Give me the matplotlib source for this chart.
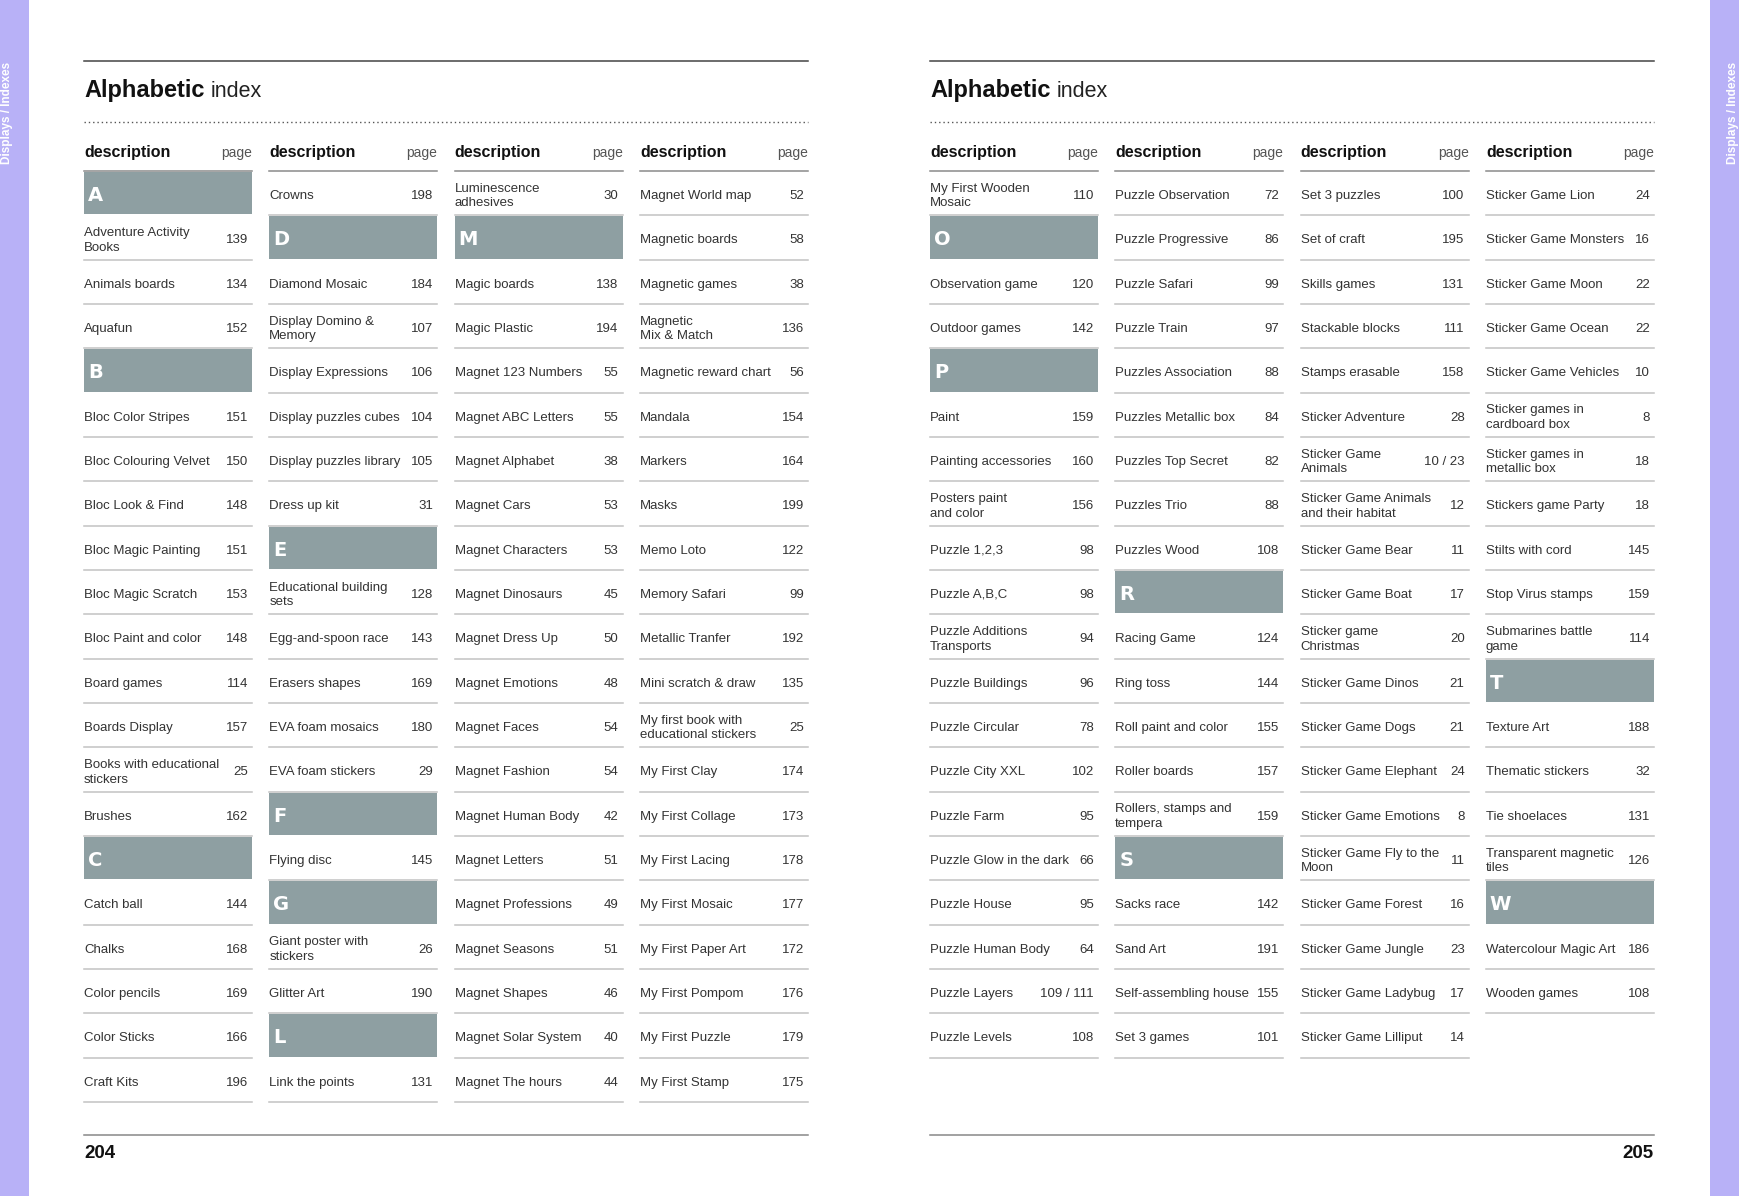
import matplotlib.pyplot as plt
from matplotlib.patches import Rectangle

W, H = 1740, 1196

# index data: (description, page); page None marks a letter band
col1 = [("A", None), ("Adventure Activity\nBooks", "139"), ("Animals boards", "134"),
        ("Aquafun", "152"), ("B", None), ("Bloc Color Stripes", "151"),
        ("Bloc Colouring Velvet", "150"), ("Bloc Look & Find", "148"),
        ("Bloc Magic Painting", "151"), ("Bloc Magic Scratch", "153"),
        ("Bloc Paint and color", "148"), ("Board games", "114"), ("Boards Display", "157"),
        ("Books with educational\nstickers", "25"), ("Brushes", "162"), ("C", None),
        ("Catch ball", "144"), ("Chalks", "168"), ("Color pencils", "169"),
        ("Color Sticks", "166"), ("Craft Kits", "196")]
col2 = [("Crowns", "198"), ("D", None), ("Diamond Mosaic", "184"),
        ("Display Domino &\nMemory", "107"), ("Display Expressions", "106"),
        ("Display puzzles cubes", "104"), ("Display puzzles library", "105"),
        ("Dress up kit", "31"), ("E", None), ("Educational building\nsets", "128"),
        ("Egg-and-spoon race", "143"), ("Erasers shapes", "169"), ("EVA foam mosaics", "180"),
        ("EVA foam stickers", "29"), ("F", None), ("Flying disc", "145"), ("G", None),
        ("Giant poster with\nstickers", "26"), ("Glitter Art", "190"), ("L", None),
        ("Link the points", "131")]
col3 = [("Luminescence\nadhesives", "30"), ("M", None), ("Magic boards", "138"),
        ("Magic Plastic", "194"), ("Magnet 123 Numbers", "55"), ("Magnet ABC Letters", "55"),
        ("Magnet Alphabet", "38"), ("Magnet Cars", "53"), ("Magnet Characters", "53"),
        ("Magnet Dinosaurs", "45"), ("Magnet Dress Up", "50"), ("Magnet Emotions", "48"),
        ("Magnet Faces", "54"), ("Magnet Fashion", "54"), ("Magnet Human Body", "42"),
        ("Magnet Letters", "51"), ("Magnet Professions", "49"), ("Magnet Seasons", "51"),
        ("Magnet Shapes", "46"), ("Magnet Solar System", "40"), ("Magnet The hours", "44")]
col4 = [("Magnet World map", "52"), ("Magnetic boards", "58"), ("Magnetic games", "38"),
        ("Magnetic\nMix & Match", "136"), ("Magnetic reward chart", "56"), ("Mandala", "154"),
        ("Markers", "164"), ("Masks", "199"), ("Memo Loto", "122"), ("Memory Safari", "99"),
        ("Metallic Tranfer", "192"), ("Mini scratch & draw", "135"),
        ("My first book with\neducational stickers", "25"), ("My First Clay", "174"),
        ("My First Collage", "173"), ("My First Lacing", "178"), ("My First Mosaic", "177"),
        ("My First Paper Art", "172"), ("My First Pompom", "176"), ("My First Puzzle", "179"),
        ("My First Stamp", "175")]
col5 = [("My First Wooden\nMosaic", "110"), ("O", None), ("Observation game", "120"),
        ("Outdoor games", "142"), ("P", None), ("Paint", "159"),
        ("Painting accessories", "160"), ("Posters paint\nand color", "156"),
        ("Puzzle 1,2,3", "98"), ("Puzzle A,B,C", "98"), ("Puzzle Additions\nTransports", "94"),
        ("Puzzle Buildings", "96"), ("Puzzle Circular", "78"), ("Puzzle City XXL", "102"),
        ("Puzzle Farm", "95"), ("Puzzle Glow in the dark", "66"), ("Puzzle House", "95"),
        ("Puzzle Human Body", "64"), ("Puzzle Layers", "109 / 111"), ("Puzzle Levels", "108")]
col6 = [("Puzzle Observation", "72"), ("Puzzle Progressive", "86"), ("Puzzle Safari", "99"),
        ("Puzzle Train", "97"), ("Puzzles Association", "88"), ("Puzzles Metallic box", "84"),
        ("Puzzles Top Secret", "82"), ("Puzzles Trio", "88"), ("Puzzles Wood", "108"),
        ("R", None), ("Racing Game", "124"), ("Ring toss", "144"),
        ("Roll paint and color", "155"), ("Roller boards", "157"),
        ("Rollers, stamps and\ntempera", "159"), ("S", None), ("Sacks race", "142"),
        ("Sand Art", "191"), ("Self-assembling house", "155"), ("Set 3 games", "101")]
col7 = [("Set 3 puzzles", "100"), ("Set of craft", "195"), ("Skills games", "131"),
        ("Stackable blocks", "111"), ("Stamps erasable", "158"), ("Sticker Adventure", "28"),
        ("Sticker Game\nAnimals", "10 / 23"), ("Sticker Game Animals\nand their habitat", "12"),
        ("Sticker Game Bear", "11"), ("Sticker Game Boat", "17"),
        ("Sticker game\nChristmas", "20"), ("Sticker Game Dinos", "21"),
        ("Sticker Game Dogs", "21"), ("Sticker Game Elephant", "24"),
        ("Sticker Game Emotions", "8"), ("Sticker Game Fly to the\nMoon", "11"),
        ("Sticker Game Forest", "16"), ("Sticker Game Jungle", "23"),
        ("Sticker Game Ladybug", "17"), ("Sticker Game Lilliput", "14")]
col8 = [("Sticker Game Lion", "24"), ("Sticker Game Monsters", "16"),
        ("Sticker Game Moon", "22"), ("Sticker Game Ocean", "22"),
        ("Sticker Game Vehicles", "10"), ("Sticker games in\ncardboard box", "8"),
        ("Sticker games in\nmetallic box", "18"), ("Stickers game Party", "18"),
        ("Stilts with cord", "145"), ("Stop Virus stamps", "159"),
        ("Submarines battle\ngame", "114"), ("T", None), ("Texture Art", "188"),
        ("Thematic stickers", "32"), ("Tie shoelaces", "131"),
        ("Transparent magnetic\ntiles", "126"), ("W", None), ("Watercolour Magic Art", "186"),
        ("Wooden games", "108")]

left_columns = [col1, col2, col3, col4]
right_columns = [col5, col6, col7, col8]
page_numbers = ["204", "205"]

FONT = "Liberation Sans"
INK = "#333333"
BAND = "#8e9fa2"
TAB = "#b8b1f7"
RULE = "#c2c2c2"

ROW_TOP = 171
ROW_H = 44.33
COL_W = 168
COL_STEP = 185.3

fig = plt.figure(figsize=(W / 100, H / 100), dpi=100)
ax = fig.add_axes([0, 0, 1, 1])
ax.set_xlim(0, W)
ax.set_ylim(H, 0)
ax.axis("off")


def draw_column(x0, entries):
    ax.text(x0, 157, "description", family=FONT, weight="bold", size=11.5, color="#111111")
    ax.text(x0 + COL_W, 157, "page", family=FONT, size=10, color="#555555", ha="right")
    ax.plot([x0, x0 + COL_W], [ROW_TOP, ROW_TOP], color="#8a8a8a", lw=1.1)
    for i, (desc, page) in enumerate(entries):
        y0 = ROW_TOP + i * ROW_H
        if page is None:
            ax.add_patch(Rectangle((x0, y0 + 1), COL_W, ROW_H - 2, facecolor=BAND, lw=0))
            ax.text(x0 + 4, y0 + 30, desc, family="DejaVu Sans", weight="bold", size=14,
                    color="white")
            continue
        lines = desc.split("\n")
        for k, line in enumerate(lines):
            yb = y0 + 28 + (k - (len(lines) - 1) / 2) * 14.7
            ax.text(x0, yb, line, family=FONT, size=9.5, color=INK)
        ax.text(x0 + COL_W - 4, y0 + 28, page, family=FONT, size=9.5, color=INK, ha="right")
        ax.plot([x0, x0 + COL_W], [y0 + ROW_H, y0 + ROW_H], color=RULE, lw=1.1)


def draw_page(x_left, columns, number, right_side):
    x_right = x_left + 3 * COL_STEP + COL_W
    ax.plot([x_left, x_right], [60.7, 60.7], color="#444444", lw=1.1)
    ax.plot([x_left, x_right], [121.7, 121.7], color="#555555", lw=1,
            linestyle=(0, (1, 2.1)))
    t = ax.text(x_left, 96.7, "Alphabetic", family=FONT, weight="bold", size=17, color="#111111")
    ax.annotate("index", xy=(1, 96.7), xycoords=(t, "data"), xytext=(6, 0),
                textcoords="offset pixels", family=FONT, size=15.5, color="#222222")
    for j, entries in enumerate(columns):
        draw_column(x_left + j * COL_STEP, entries)
    ax.plot([x_left, x_right], [1135, 1135], color="#888888", lw=1.1)
    if right_side:
        ax.text(x_right, 1158, number, family=FONT, weight="bold", size=13.5,
                color="#111111", ha="right")
    else:
        ax.text(x_left, 1158, number, family=FONT, weight="bold", size=13.5, color="#111111")


# side tabs
ax.add_patch(Rectangle((0, 0), 29, H, facecolor=TAB, lw=0))
ax.add_patch(Rectangle((1710, 0), 30, H, facecolor=TAB, lw=0))
for xt in (7.5, 1733):
    ax.text(xt, 113, "Displays / Indexes", family=FONT, weight="bold", size=8.5,
            color="white", rotation=90, ha="center", va="center")

draw_page(84, left_columns, page_numbers[0], False)
draw_page(930, right_columns, page_numbers[1], True)

fig.savefig("out.png", dpi=100, facecolor="white")
